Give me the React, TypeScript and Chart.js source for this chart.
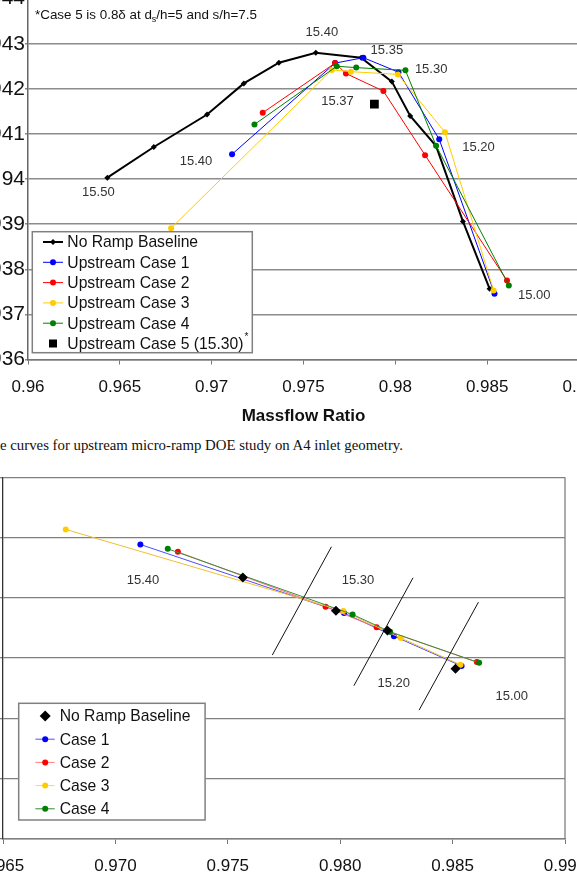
import React, { useEffect, useRef } from 'react';
import { Chart, registerables } from 'chart.js';
Chart.register(...registerables);

const FONT = '"Liberation Sans", Arial, sans-serif';

// ---------- Top chart data (Recovery vs Massflow Ratio) ----------
const topBaseX = [0.96432, 0.96685, 0.96975, 0.97175, 0.97366, 0.97567, 0.97814, 0.97981, 0.98081, 0.98222, 0.98368, 0.98513];
const topBaseY = [0.94003, 0.94071, 0.94143, 0.94212, 0.94258, 0.9428, 0.94269, 0.94216, 0.9414, 0.94073, 0.93906, 0.93757];
const topCase1X = [0.97111, 0.97672, 0.97826, 0.98017, 0.98239, 0.9854];
const topCase1Y = [0.94055, 0.94257, 0.94269, 0.94237, 0.94088, 0.93746];
const topCase2X = [0.97278, 0.97672, 0.97731, 0.97935, 0.98162, 0.98608];
const topCase2Y = [0.94147, 0.94257, 0.94234, 0.94195, 0.94053, 0.93775];
const topCase3X = [0.96779, 0.97654, 0.97758, 0.98014, 0.9827, 0.98535];
const topCase3Y = [0.93891, 0.94242, 0.94238, 0.94232, 0.94104, 0.93753];
const topCase4X = [0.97233, 0.97681, 0.97787, 0.98055, 0.98222, 0.98618];
const topCase4Y = [0.94121, 0.9425, 0.94247, 0.94241, 0.94074, 0.93764];
const topCase5X = [0.97886];
const topCase5Y = [0.94166];
const topLabelText = ['15.50', '15.40', '15.40', '15.35', '15.30', '15.37', '15.20', '15.00'];
const topLabelX = [0.96383, 0.96915, 0.976, 0.97954, 0.98195, 0.97685, 0.98453, 0.98756];
const topLabelY = [0.9397, 0.94038, 0.94325, 0.94285, 0.94244, 0.94171, 0.94071, 0.93742];
const topLegend = ['No Ramp Baseline', 'Upstream Case 1', 'Upstream Case 2', 'Upstream Case 3', 'Upstream Case 4', 'Upstream Case 5 (15.30)'];

// ---------- Bottom chart data ----------
const botBaseX = [0.97567, 0.97981, 0.9821, 0.98513];
const botBaseY = [0.95169, 0.94892, 0.94728, 0.94411];
const botCase1X = [0.97111, 0.98017, 0.98239, 0.9854];
const botCase1Y = [0.95442, 0.94873, 0.94682, 0.94434];
const botCase2X = [0.97278, 0.97935, 0.98162, 0.98608];
const botCase2Y = [0.95381, 0.94925, 0.94755, 0.94467];
const botCase3X = [0.96779, 0.98014, 0.9827, 0.98535];
const botCase3Y = [0.95567, 0.9489, 0.94666, 0.94445];
const botCase4X = [0.97233, 0.98055, 0.98222, 0.98618];
const botCase4Y = [0.95406, 0.94862, 0.94718, 0.94461];
const isoLineX = [[0.97698, 0.97961], [0.98061, 0.98324], [0.98351, 0.98615]];
const isoLineY = [[0.94525, 0.95423], [0.94271, 0.95166], [0.94069, 0.94964]];
const botLabelText = ['15.40', '15.30', '15.20', '15.00'];
const botLabelX = [0.97123, 0.98079, 0.98238, 0.98763];
const botLabelY = [0.95147, 0.95147, 0.94293, 0.94185];
const botLegend = ['No Ramp Baseline', 'Case 1', 'Case 2', 'Case 3', 'Case 4'];

const CAPTION = 'e curves for upstream micro-ramp DOE study on A4 inlet geometry.';

const pts = (xs: number[], ys: number[]) => xs.map((x, i) => ({ x, y: ys[i] }));
const trim = (v: number) => String(parseFloat(Number(v).toFixed(3)));

function marker(ctx: CanvasRenderingContext2D, kind: string, x: number, y: number, r: number, color: string) {
  ctx.fillStyle = color;
  ctx.beginPath();
  if (kind === 'circle') ctx.arc(x, y, r, 0, Math.PI * 2);
  else if (kind === 'diamond') {
    ctx.moveTo(x, y - r); ctx.lineTo(x + r, y); ctx.lineTo(x, y + r); ctx.lineTo(x - r, y); ctx.closePath();
  } else ctx.rect(x - r, y - r, 2 * r, 2 * r);
  ctx.fill();
}

type Row = { label: string; color: string; lineColor?: string; lineWidth?: number; kind: string; r: number; sup?: string };

function drawLegend(ctx: CanvasRenderingContext2D, bx: number, by: number, bw: number, bh: number, rows: Row[],
  firstY: number, gap: number, lx0: number, lx1: number, mx: number, tx: number, fs: number) {
  ctx.save();
  ctx.fillStyle = '#fff';
  ctx.fillRect(bx, by, bw, bh);
  ctx.strokeStyle = '#808080';
  ctx.lineWidth = 1.5;
  ctx.strokeRect(bx, by, bw, bh);
  rows.forEach((r, i) => {
    const y = by + firstY + i * gap;
    if (r.lineColor) {
      ctx.strokeStyle = r.lineColor;
      ctx.lineWidth = r.lineWidth || 1;
      ctx.beginPath(); ctx.moveTo(bx + lx0, y); ctx.lineTo(bx + lx1, y); ctx.stroke();
    }
    marker(ctx, r.kind, bx + mx, y, r.r, r.color);
    ctx.fillStyle = '#111';
    ctx.font = `${fs}px ${FONT}`;
    ctx.textAlign = 'left';
    ctx.textBaseline = 'middle';
    ctx.fillText(r.label, bx + tx, y + 1);
    if (r.sup) {
      const w = ctx.measureText(r.label).width;
      ctx.font = `10px ${FONT}`;
      ctx.fillText(r.sup, bx + tx + w + 1, y - 6);
    }
  });
  ctx.restore();
}

function drawLabels(chart: any, texts: string[], xs: number[], ys: number[]) {
  const { ctx, scales } = chart;
  ctx.save();
  ctx.font = `13px ${FONT}`;
  ctx.fillStyle = '#333';
  ctx.textAlign = 'center';
  ctx.textBaseline = 'middle';
  texts.forEach((t, i) => ctx.fillText(t, scales.x.getPixelForValue(xs[i]), scales.y.getPixelForValue(ys[i])));
  ctx.restore();
}

const BLUE = '#0000ff', RED = '#ff0000', YELLOW = '#ffcc00', GREEN = '#008000';

function lineSet(label: string, data: any[], color: string, order: number, lineColor?: string) {
  return {
    label, data, showLine: true, borderColor: lineColor || color, backgroundColor: color, borderWidth: 1,
    pointBackgroundColor: color, pointBorderColor: color, pointBorderWidth: 0, pointRadius: 3, pointStyle: 'circle', order,
  };
}

function topConfig(): any {
  const overlay = {
    id: 'topOverlay',
    afterDraw(chart: any) {
      const { ctx, chartArea: a } = chart;
      drawLabels(chart, topLabelText, topLabelX, topLabelY);
      // note
      ctx.save();
      ctx.fillStyle = '#111';
      ctx.textBaseline = 'middle';
      ctx.textAlign = 'left';
      ctx.font = `13.4px ${FONT}`;
      let x = a.left + 7;
      const y = a.top + 17;
      const p1 = '*Case 5 is 0.8\u03b4 at d';
      ctx.fillText(p1, x, y); x += ctx.measureText(p1).width;
      ctx.font = `9px ${FONT}`;
      ctx.fillText('s', x, y + 4); x += ctx.measureText('s').width;
      ctx.font = `13.4px ${FONT}`;
      ctx.fillText('/h=5 and s/h=7.5', x, y);
      ctx.restore();
      const rows: Row[] = [
        { label: topLegend[0], color: '#000', lineColor: '#000', lineWidth: 2, kind: 'diamond', r: 3 },
        { label: topLegend[1], color: BLUE, lineColor: BLUE, kind: 'circle', r: 3 },
        { label: topLegend[2], color: RED, lineColor: RED, kind: 'circle', r: 3 },
        { label: topLegend[3], color: YELLOW, lineColor: YELLOW, kind: 'circle', r: 3 },
        { label: topLegend[4], color: GREEN, lineColor: GREEN, kind: 'circle', r: 3 },
        { label: topLegend[5], color: '#000', kind: 'square', r: 4, sup: '*' },
      ];
      drawLegend(ctx, a.left + 4.3, a.bottom - 127.8, 220, 121, rows, 10.3, 20.3, 10.7, 30.7, 20.7, 35, 15.7);
    },
  };
  return {
    type: 'scatter',
    data: {
      datasets: [
        { label: topLegend[0], data: pts(topBaseX, topBaseY), showLine: true, borderColor: '#000', borderWidth: 2,
          pointBackgroundColor: '#000', pointBorderColor: '#000', pointBorderWidth: 0, pointRadius: 3, pointStyle: 'rectRot', order: 6 },
        lineSet(topLegend[1], pts(topCase1X, topCase1Y), BLUE, 5),
        lineSet(topLegend[2], pts(topCase2X, topCase2Y), RED, 4),
        lineSet(topLegend[3], pts(topCase3X, topCase3Y), YELLOW, 3),
        lineSet(topLegend[4], pts(topCase4X, topCase4Y), GREEN, 2),
        { label: topLegend[5], data: pts(topCase5X, topCase5Y), showLine: false, pointStyle: 'rect', pointRadius: 6.2,
          pointBackgroundColor: '#000', pointBorderColor: '#000', pointBorderWidth: 0, order: 1 },
      ],
    },
    options: {
      animation: false, responsive: false, devicePixelRatio: 1,
      layout: { padding: { top: 12, right: 40, left: 0, bottom: 0 } },
      plugins: { legend: { display: false }, tooltip: { enabled: false } },
      scales: {
        x: {
          type: 'linear', min: 0.96, max: 0.99,
          ticks: { stepSize: 0.005, autoSkip: false, maxRotation: 0, padding: 13, color: '#111', font: { family: FONT, size: 17 }, callback: (v: number) => trim(v) },
          grid: { drawOnChartArea: false, drawTicks: true, tickLength: 5, color: '#777', lineWidth: 1 },
          border: { display: true, color: '#777', width: 1.5 },
          title: { display: true, text: 'Massflow Ratio', color: '#111', font: { family: FONT, size: 17, weight: 'bold' }, padding: { top: 4, bottom: 3 } },
          afterFit: (s: any) => { s.height = 70.5; },
        },
        y: {
          type: 'linear', min: 0.936, max: 0.944,
          ticks: { stepSize: 0.001, padding: 0, color: '#111', font: { family: FONT, size: 21 }, callback: (v: number) => trim(v) },
          grid: { color: '#8c8c8c', lineWidth: 1.5, tickLength: 3 },
          border: { display: true, color: '#666', width: 1.5 },
          afterFit: (s: any) => { s.width = 60; },
        },
      },
    },
    plugins: [overlay],
  };
}

function botConfig(): any {
  const overlay = {
    id: 'botOverlay',
    afterDraw(chart: any) {
      const { ctx, chartArea: a } = chart;
      ctx.save();
      ctx.strokeStyle = '#808080';
      ctx.lineWidth = 1.3;
      ctx.beginPath(); ctx.moveTo(a.right, a.top); ctx.lineTo(a.right, a.bottom); ctx.stroke();
      ctx.restore();
      drawLabels(chart, botLabelText, botLabelX, botLabelY);
      const rows: Row[] = [
        { label: botLegend[0], color: '#000', kind: 'diamond', r: 5.5 },
        { label: botLegend[1], color: BLUE, lineColor: '#4d4dff', kind: 'circle', r: 3 },
        { label: botLegend[2], color: RED, lineColor: '#ff8080', kind: 'circle', r: 3 },
        { label: botLegend[3], color: YELLOW, lineColor: '#ffd84d', kind: 'circle', r: 3 },
        { label: botLegend[4], color: GREEN, lineColor: '#2e8b2e', kind: 'circle', r: 3 },
      ];
      drawLegend(ctx, a.left + 15.7, a.bottom - 135.7, 186.4, 116.7, rows, 12.7, 23.2, 16.7, 36, 26.5, 41, 15.7);
    },
  };
  const iso = isoLineX.map((xs, i) => ({
    label: 'iso' + i, data: pts(xs, isoLineY[i]), showLine: true, borderColor: '#111', borderWidth: 1, pointRadius: 0, order: 0,
  }));
  return {
    type: 'scatter',
    data: {
      datasets: [
        { label: botLegend[0], data: pts(botBaseX, botBaseY), showLine: false, pointStyle: 'rectRot', pointRadius: 5,
          pointBackgroundColor: '#000', pointBorderColor: '#000', pointBorderWidth: 0, order: 1 },
        lineSet(botLegend[1], pts(botCase1X, botCase1Y), BLUE, 5, '#4d4dff'),
        lineSet(botLegend[2], pts(botCase2X, botCase2Y), RED, 4, '#ff7070'),
        lineSet(botLegend[3], pts(botCase3X, botCase3Y), YELLOW, 3, '#f0c030'),
        lineSet(botLegend[4], pts(botCase4X, botCase4Y), GREEN, 2, '#3a8f3a'),
        ...iso,
      ],
    },
    options: {
      animation: false, responsive: false, devicePixelRatio: 1,
      layout: { padding: { top: 12, right: 40, left: 0, bottom: 0 } },
      plugins: { legend: { display: false }, tooltip: { enabled: false } },
      scales: {
        x: {
          type: 'linear', min: 0.965, max: 0.99,
          ticks: { stepSize: 0.005, autoSkip: false, maxRotation: 0, padding: 12, color: '#111', font: { family: FONT, size: 17 }, callback: (v: number) => Number(v).toFixed(3) },
          grid: { drawOnChartArea: false, drawTicks: true, tickLength: 5, color: '#777', lineWidth: 1 },
          border: { display: true, color: '#808080', width: 1.5 },
          afterFit: (s: any) => { s.height = 50; },
        },
        y: {
          type: 'linear', min: 0.93, max: 0.96,
          ticks: { stepSize: 0.005, padding: 2, color: '#111', font: { family: FONT, size: 17 }, callback: (v: number) => Number(v).toFixed(3) },
          grid: { color: '#808080', lineWidth: 1.3, tickLength: 4 },
          border: { display: true, color: '#333', width: 1.3 },
          afterFit: (s: any) => { s.width = 60; },
        },
      },
    },
    plugins: [overlay],
  };
}

export default function App() {
  const topRef = useRef<HTMLCanvasElement>(null);
  const botRef = useRef<HTMLCanvasElement>(null);
  useEffect(() => {
    const c1 = new Chart(topRef.current as HTMLCanvasElement, topConfig());
    const c2 = new Chart(botRef.current as HTMLCanvasElement, botConfig());
    return () => { c1.destroy(); c2.destroy(); };
  }, []);
  return (
    <div style={{ position: 'absolute', left: 0, top: 0, width: 577, height: 879, overflow: 'hidden', background: '#fff' }}>
      <canvas ref={topRef} width={651} height={444} style={{ position: 'absolute', left: -32, top: -14, width: 651, height: 444 }} />
      <div style={{ position: 'absolute', left: 0, top: 437, fontFamily: '"Liberation Serif", "Times New Roman", serif', fontSize: 14.8, lineHeight: '16px', whiteSpace: 'nowrap', color: '#111' }}>{CAPTION}</div>
      <canvas ref={botRef} width={662} height={424} style={{ position: 'absolute', left: -57, top: 465, width: 662, height: 424 }} />
    </div>
  );
}
